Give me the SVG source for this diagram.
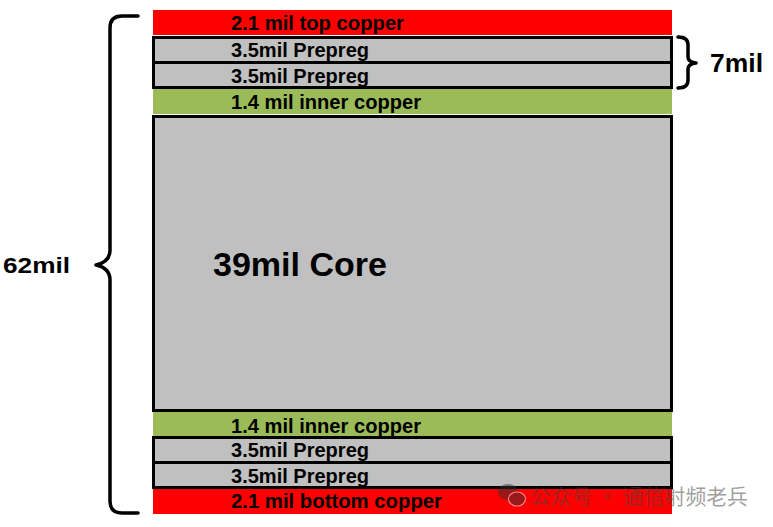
<svg xmlns="http://www.w3.org/2000/svg" width="773" height="527" viewBox="0 0 773 527">
<style>
.cu{fill:#FF0000}
.in{fill:#9BBB59}
.pp{fill:#C0C0C0;stroke:#000;stroke-width:3}
.lbl{font-family:"Liberation Sans",Arial,sans-serif;font-weight:bold;font-size:20px;fill:#000}
.big{font-family:"Liberation Sans",Arial,sans-serif;font-weight:bold;fill:#000}
.brace{fill:none;stroke:#000;stroke-width:3.5;stroke-linecap:round;stroke-linejoin:round}
.wm{font-family:"Noto Sans CJK SC",sans-serif;font-size:21px;fill:#444}
</style>
<rect width="773" height="527" fill="#fff"/>
<g id="top-copper"><rect class="cu" x="153" y="10" width="519" height="25"/><text class="lbl" x="231" y="29.5" textLength="173" lengthAdjust="spacingAndGlyphs">2.1 mil top copper</text></g>
<g id="prepreg-1"><rect class="pp" x="153.5" y="37.5" width="518" height="25"/><text class="lbl" x="231" y="57" textLength="138" lengthAdjust="spacingAndGlyphs">3.5mil Prepreg</text></g>
<g id="prepreg-2"><rect class="pp" x="153.5" y="62.5" width="518" height="25"/><text class="lbl" x="231" y="83" textLength="138" lengthAdjust="spacingAndGlyphs">3.5mil Prepreg</text></g>
<g id="inner-copper-1"><rect class="in" x="153" y="89" width="519" height="25"/><text class="lbl" x="231" y="109" textLength="190" lengthAdjust="spacingAndGlyphs">1.4 mil inner copper</text></g>
<g id="core"><rect class="pp" x="153.5" y="116.5" width="518" height="294"/><text class="big" x="213" y="276" font-size="34" textLength="174" lengthAdjust="spacingAndGlyphs">39mil Core</text></g>
<g id="inner-copper-2"><rect class="in" x="153" y="412" width="519" height="25"/><text class="lbl" x="231" y="433" textLength="190" lengthAdjust="spacingAndGlyphs">1.4 mil inner copper</text></g>
<g id="prepreg-3"><rect class="pp" x="153.5" y="437.5" width="518" height="25"/><text class="lbl" x="231" y="457" textLength="138" lengthAdjust="spacingAndGlyphs">3.5mil Prepreg</text></g>
<g id="prepreg-4"><rect class="pp" x="153.5" y="462.5" width="518" height="25"/><text class="lbl" x="231" y="483" textLength="138" lengthAdjust="spacingAndGlyphs">3.5mil Prepreg</text></g>
<g id="bottom-copper"><rect class="cu" x="153" y="489" width="519" height="25"/><text class="lbl" x="231" y="508" textLength="211" lengthAdjust="spacingAndGlyphs">2.1 mil bottom copper</text></g>
<g id="brace-62mil"><path class="brace" d="M138 16 L122 16 Q110 16 110 28 L110 250 Q110 262 96 265 Q110 268 110 280 L110 501 Q110 513 122 513 L138 513"/><text class="big" x="3" y="273" font-size="22" textLength="67" lengthAdjust="spacingAndGlyphs">62mil</text></g>
<g id="brace-7mil"><path class="brace" d="M678 37 Q688 37 688 45 L688 57 Q688 62 696 63 Q688 64 688 69 L688 80 Q688 88 678 88"/><text class="big" x="710" y="72" font-size="26" textLength="53" lengthAdjust="spacingAndGlyphs">7mil</text></g>
<g id="watermark" opacity="0.5">
<ellipse cx="508" cy="492" rx="10" ry="8" fill="#333"/>
<ellipse cx="517" cy="499" rx="8.5" ry="7" fill="#333" stroke="#fff" stroke-width="1.2"/>
<text class="wm" x="530" y="504" textLength="218" lengthAdjust="spacingAndGlyphs">公众号 · 通信射频老兵</text>
</g>
</svg>
